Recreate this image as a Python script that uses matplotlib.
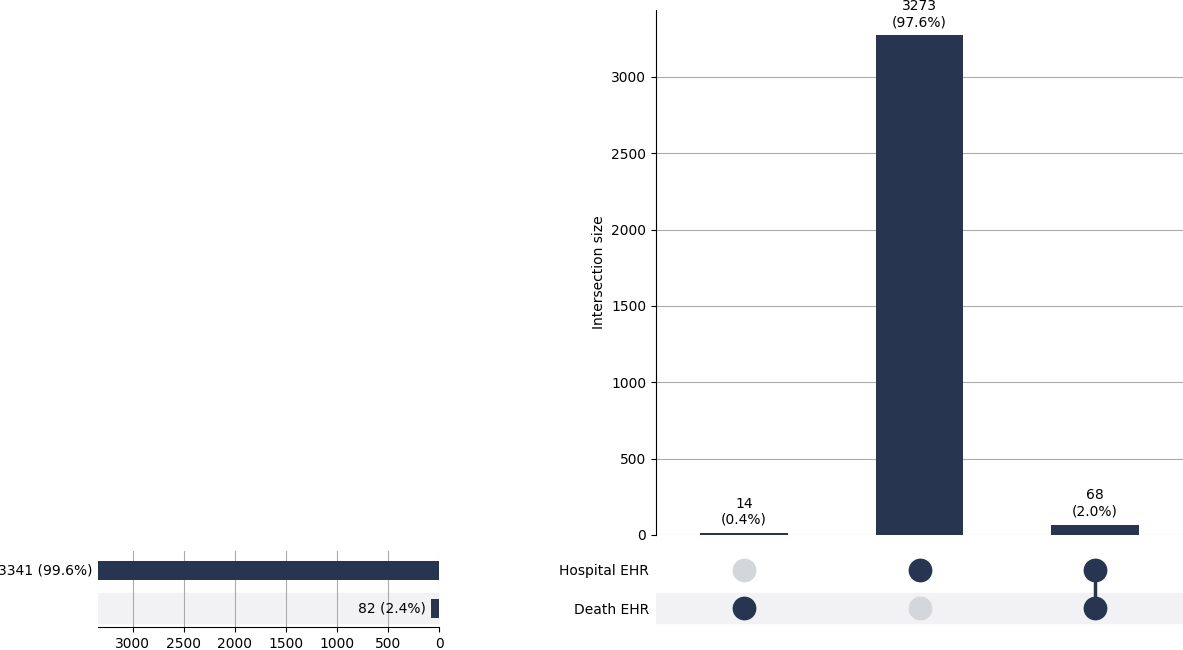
import matplotlib
matplotlib.use("Agg")
import matplotlib.pyplot as plt

sets = ["Hospital EHR", "Death EHR"]
set_totals = [3341, 82]
set_pct = ["99.6%", "2.4%"]
inter_sizes = [14, 3273, 68]
inter_pct = ["0.4%", "97.6%", "2.0%"]
membership = [[0, 1], [1, 0], [1, 1]]  # [Hospital, Death]

C = "#283550"
G = "#d3d6db"
W, H = 1183, 650
fig = plt.figure(figsize=(W/100, H/100), dpi=100)

def ax_px(l, t, r, b):
    return fig.add_axes([l/W, 1-b/H, (r-l)/W, (b-t)/H])

# intersections
ax = ax_px(656, 10, 1183, 535)
xs = range(len(inter_sizes))
ax.bar(xs, inter_sizes, width=0.5, color=C, zorder=3)
for x, v, p in zip(xs, inter_sizes, inter_pct):
    ax.text(x, v + 40, f"{v}\n({p})", ha="center", va="bottom", fontsize=10)
ax.set_xlim(-0.5, 2.5)
ax.set_ylim(0, 3438)
ax.set_xticks([])
ax.set_yticks(range(0, 3001, 500))
ax.yaxis.grid(True, color="#aaaaaa", zorder=0)
ax.set_ylabel("Intersection size", fontsize=10)
for s in ["top", "right", "bottom"]:
    ax.spines[s].set_visible(False)

# matrix
mx = ax_px(656, 551, 1183, 627)
mx.set_xlim(-0.5, 2.5)
mx.set_ylim(1.5, -0.5)
mx.axhspan(0.6, 1.4, color="#f2f2f4", zorder=0)
for x, mem in enumerate(membership):
    ys = [i for i, m in enumerate(mem) if m]
    for i, m in enumerate(mem):
        mx.scatter(x, i, s=260, color=C if m else G, zorder=3)
    if len(ys) > 1:
        mx.plot([x, x], [min(ys), max(ys)], color=C, lw=2.5, zorder=2)
mx.set_xticks([])
mx.set_yticks([0, 1])
mx.set_yticklabels(sets, fontsize=10)
mx.tick_params(axis="y", length=0, pad=5)
for s in mx.spines.values():
    s.set_visible(False)

# totals
tx = ax_px(98, 551, 439, 627)
tx.set_ylim(1.5, -0.5)
tx.axhspan(0.6, 1.4, color="#f2f2f4", zorder=0)
tx.barh(range(len(sets)), set_totals, height=0.5, color=C, zorder=3)
tx.set_xlim(3341, 0)
for i, (v, p) in enumerate(zip(set_totals, set_pct)):
    tx.text(v + 50, i, f"{v} ({p})", ha="right", va="center", fontsize=10)
tx.set_xticks(range(0, 3001, 500))
tx.xaxis.grid(True, color="#aaaaaa", zorder=0)
tx.set_yticks([])
for s in ["top", "left", "right"]:
    tx.spines[s].set_visible(False)

fig.savefig("out.png", dpi=100)
